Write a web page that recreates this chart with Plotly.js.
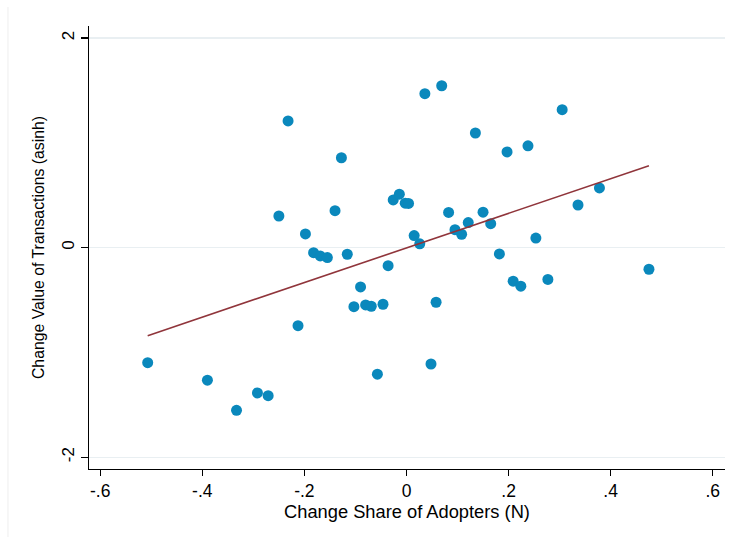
<!DOCTYPE html>
<html>
<head>
<meta charset="utf-8">
<script src="https://cdn.plot.ly/plotly-3.0.1.min.js"></script>
<style>html,body{margin:0;padding:0;background:#fff;}#chart{width:730px;height:537px;}</style>
</head>
<body>
<div id="chart"></div>
<script>
// Change Share of Adopters (N)
const shareChange = [-0.507, -0.390, -0.333, -0.292, -0.271, -0.2125, -0.232, -0.250, -0.198, -0.182,
  -0.169, -0.155, -0.116, -0.140, -0.1275, -0.090, -0.103, -0.080, -0.069, -0.046,
  -0.057, -0.036, -0.026, -0.014, -0.0025, 0.004, 0.036, 0.069, 0.015, 0.026,
  0.058, 0.048, 0.0825, 0.095, 0.108, 0.121, 0.135, 0.150, 0.165, 0.182,
  0.197, 0.209, 0.224, 0.238, 0.2535, 0.277, 0.305, 0.336, 0.378, 0.475];
// Change Value of Transactions (asinh)
const valueChange = [-1.097, -1.265, -1.552, -1.386, -1.412, -0.744, 1.209, 0.302, 0.131, -0.048,
  -0.079, -0.095, -0.063, 0.353, 0.858, -0.375, -0.563, -0.547, -0.559, -0.540,
  -1.207, -0.172, 0.455, 0.510, 0.424, 0.422, 1.469, 1.545, 0.115, 0.037,
  -0.521, -1.110, 0.336, 0.172, 0.128, 0.239, 1.094, 0.339, 0.229, -0.060,
  0.913, -0.320, -0.368, 0.972, 0.091, -0.303, 1.317, 0.407, 0.570, -0.206];
// Fitted line end points
const fitX = [-0.507, 0.475];
const fitY = [-0.840, 0.782];
// Tick labels
const xTickVals = [-0.6, -0.4, -0.2, 0, 0.2, 0.4, 0.6];
const xTickText = ["-.6", "-.4", "-.2", "0", ".2", ".4", ".6"];
const yTickVals = [-2, 0, 2];
const yTickText = ["-2", "0", "2"];

const font = "Liberation Sans, Arial, Helvetica, sans-serif";

const traces = [
  {
    x: shareChange, y: valueChange, type: "scatter", mode: "markers",
    marker: {color: "#0a88bc", size: 11, line: {width: 0}},
    hoverinfo: "x+y", showlegend: false
  },
  {
    x: fitX, y: fitY, type: "scatter", mode: "lines",
    line: {color: "#90353b", width: 1.6},
    hoverinfo: "skip", showlegend: false
  }
];

const layout = {
  width: 730, height: 537,
  margin: {l: 89, r: 5, t: 26, b: 68},
  paper_bgcolor: "#ffffff", plot_bgcolor: "#ffffff",
  font: {family: font, size: 16, color: "#000"},
  showlegend: false,
  xaxis: {
    range: [-0.622, 0.624],
    tickvals: xTickVals, ticktext: xTickText,
    ticks: "outside", ticklen: 6, tickwidth: 1.3, tickcolor: "#000",
    showline: true, linecolor: "#000", linewidth: 1.3,
    showgrid: false, zeroline: false,
    tickfont: {family: font, size: 17.5, color: "#000"},
    title: {text: "Change Share of Adopters (N)", font: {family: font, size: 18.3, color: "#000"}, standoff: 3}
  },
  yaxis: {
    range: [-2.112, 2.115],
    tickvals: yTickVals, ticktext: yTickText, tickangle: -90,
    ticks: "outside", ticklen: 7, tickwidth: 1.3, tickcolor: "#000",
    showline: true, linecolor: "#000", linewidth: 1.3,
    showgrid: true, gridcolor: "#e9eff2", gridwidth: 1.5, zeroline: false,
    tickfont: {family: font, size: 17, color: "#000"},
    title: {text: "Change Value of Transactions (asinh)", font: {family: font, size: 15.8, color: "#000"}, standoff: 10}
  },
  shapes: [
    {type: "line", xref: "paper", yref: "paper", x0: -0.1274, x1: -0.1274, y0: 1.043, y1: -0.2,
     line: {color: "#eeeeee", width: 1}}
  ]
};

Plotly.newPlot("chart", traces, layout, {displayModeBar: false, staticPlot: true});
</script>
</body>
</html>
